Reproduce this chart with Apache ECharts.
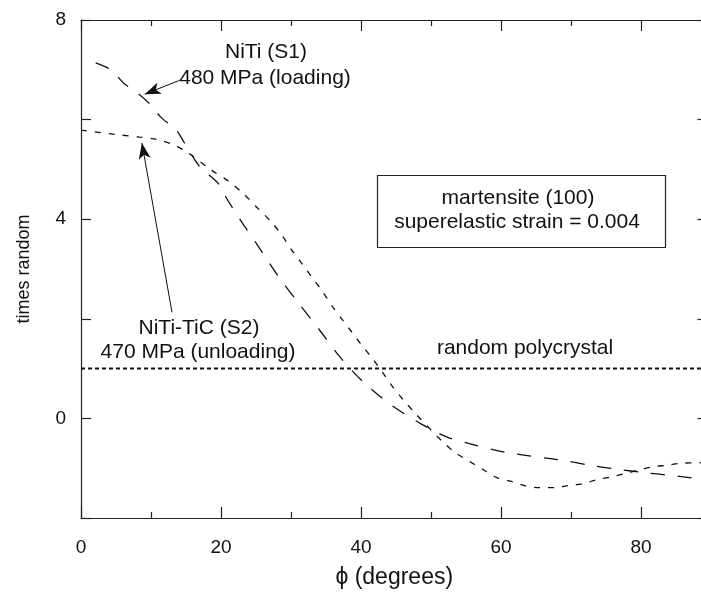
<!DOCTYPE html>
<html>
<head>
<meta charset="utf-8">
<script src="https://cdn.jsdelivr.net/npm/echarts@6/dist/echarts.min.js"></script>
<style>
  html, body { margin: 0; padding: 0; background: #fff; overflow: hidden; }
  #chart { width: 712px; height: 597px; }
</style>
</head>
<body>
<div id="chart"></div>
<script>
// Pole-figure intensity (times random) vs tilt angle phi
var phiS1 = [2.1, 4.3, 6.1, 8.1, 10, 11.4, 13.6, 14.7, 17, 19.6, 20.7, 22.6, 25.4, 28.1, 31, 34, 36.9, 40.4, 44.4, 48.7, 52.4, 56.4, 60.6, 64.4, 68.7, 72.7, 76.6, 80.6, 84.6, 88.6];
var valS1 = [7.14, 7.0, 6.73, 6.53, 6.29, 6.05, 5.79, 5.55, 5.05, 4.72, 4.44, 4.02, 3.44, 2.87, 2.33, 1.79, 1.25, 0.72, 0.26, -0.12, -0.38, -0.54, -0.68, -0.76, -0.84, -0.94, -1.02, -1.09, -1.15, -1.22];

var phiS2 = [0, 5.7, 8.3, 10.9, 13.3, 15.1, 18.7, 21.1, 23.3, 25.1, 27.1, 28.7, 30, 31.4, 33, 34.4, 35.9, 37.3, 38.6, 40, 41.7, 43.1, 44.6, 46, 47.9, 51.6, 53.4, 55.7, 57.7, 59.4, 61.6, 63.6, 65.6, 67.7, 69.6, 71.7, 73.7, 75.9, 77.7, 79.9, 81.7, 83.7, 85.7, 88.6];
var valS2 = [5.79, 5.69, 5.65, 5.6, 5.49, 5.35, 4.98, 4.76, 4.5, 4.24, 3.96, 3.68, 3.4, 3.14, 2.83, 2.57, 2.25, 1.99, 1.75, 1.49, 1.19, 0.92, 0.62, 0.38, 0.08, -0.46, -0.68, -0.88, -1.05, -1.19, -1.27, -1.36, -1.39, -1.39, -1.35, -1.31, -1.23, -1.17, -1.11, -1.03, -0.97, -0.94, -0.90, -0.89];

var phiRandom = [0, 89.5];
var valRandom = [1, 1];

// arrow tail and head, in data coordinates
var arrowS1 = [[14.1, 6.79], [9.1, 6.51]];
var arrowS2 = [[13.0, 2.13], [8.7, 5.53]];

var xTickLabels = [0, 20, 40, 60, 80];
var yTickLabels = [0, 4, 8];

function zip(xs, ys) { return xs.map(function (x, i) { return [x, ys[i]]; }); }

var FONT = 'Liberation Sans';
var INK = '#111';
var FRAME = '#222';

var chart = echarts.init(document.getElementById('chart'), null, { renderer: 'canvas' });

var axisLine = { show: true, onZero: false, lineStyle: { color: FRAME, width: 1.2 } };
var xTick = { inside: true, length: 11, lineStyle: { color: FRAME, width: 1.2 } };
var xMinor = { show: true, splitNumber: 2, length: 6, lineStyle: { color: FRAME, width: 1.2 } };
var yTick = { inside: true, length: 10, lineStyle: { color: FRAME, width: 1.2 } };

chart.setOption({
  animation: false,
  backgroundColor: '#fff',
  grid: { left: 81, top: 20, width: 626.5, height: 498, containLabel: false },
  xAxis: [{
    type: 'value', min: 0, max: 89.5, interval: 20, position: 'bottom',
    name: 'ϕ (degrees)', nameLocation: 'middle', nameGap: 48,
    nameTextStyle: { fontFamily: FONT, fontSize: 23, color: INK },
    axisLine: axisLine, axisTick: xTick, minorTick: xMinor,
    splitLine: { show: false }, minorSplitLine: { show: false },
    axisLabel: {
      margin: 20, fontFamily: FONT, fontSize: 19, color: INK,
      formatter: function (v) { return xTickLabels.indexOf(v) >= 0 ? String(v) : ''; }
    }
  }, {
    type: 'value', min: 0, max: 89.5, interval: 20, position: 'top',
    axisLine: axisLine, axisTick: xTick, minorTick: xMinor,
    splitLine: { show: false }, minorSplitLine: { show: false }, axisLabel: { show: false }
  }],
  yAxis: [{
    type: 'value', min: -2, max: 8, interval: 2, position: 'left',
    name: 'times random', nameLocation: 'middle', nameGap: 48, nameRotate: 90,
    nameTextStyle: { fontFamily: FONT, fontSize: 18, color: INK },
    axisLine: axisLine, axisTick: yTick,
    splitLine: { show: false },
    axisLabel: {
      margin: 15, fontFamily: FONT, fontSize: 19, color: INK,
      formatter: function (v) { return yTickLabels.indexOf(v) >= 0 ? String(v) : ''; }
    }
  }, {
    type: 'value', min: -2, max: 8, interval: 2, position: 'right',
    axisLine: axisLine, axisTick: yTick,
    splitLine: { show: false }, axisLabel: { show: false }
  }],
  series: [{
    name: 'NiTi (S1)', type: 'line', data: zip(phiS1, valS1),
    showSymbol: false, smooth: 0.3, silent: true,
    lineStyle: { color: INK, width: 1.3, type: [14, 13] },
    markLine: {
      silent: true, symbol: ['none', 'arrow'], symbolSize: [9, 16],
      label: { show: false },
      lineStyle: { type: 'solid', color: INK, width: 1 },
      data: [[{ coord: arrowS1[0] }, { coord: arrowS1[1] }]]
    }
  }, {
    name: 'NiTi-TiC (S2)', type: 'line', data: zip(phiS2, valS2),
    showSymbol: false, smooth: 0.3, silent: true,
    lineStyle: { color: INK, width: 1.3, type: [6, 8] },
    markLine: {
      silent: true, symbol: ['none', 'arrow'], symbolSize: [9, 16],
      label: { show: false },
      lineStyle: { type: 'solid', color: INK, width: 1 },
      data: [[{ coord: arrowS2[0] }, { coord: arrowS2[1] }]]
    }
  }, {
    name: 'random polycrystal', type: 'line', data: zip(phiRandom, valRandom),
    showSymbol: false, silent: true,
    lineStyle: { color: INK, width: 2, type: [4, 3] }
  }],
  graphic: [
    { type: 'text', style: { x: 266, y: 52, text: 'NiTi (S1)', fill: INK, font: '21px "Liberation Sans"', textAlign: 'center', textVerticalAlign: 'middle' } },
    { type: 'text', style: { x: 265, y: 78, text: '480 MPa (loading)', fill: INK, font: '21px "Liberation Sans"', textAlign: 'center', textVerticalAlign: 'middle' } },
    { type: 'text', style: { x: 199, y: 328, text: 'NiTi-TiC (S2)', fill: INK, font: '21px "Liberation Sans"', textAlign: 'center', textVerticalAlign: 'middle' } },
    { type: 'text', style: { x: 198, y: 352, text: '470 MPa (unloading)', fill: INK, font: '21px "Liberation Sans"', textAlign: 'center', textVerticalAlign: 'middle' } },
    { type: 'text', style: { x: 525, y: 348, text: 'random polycrystal', fill: INK, font: '21px "Liberation Sans"', textAlign: 'center', textVerticalAlign: 'middle' } },
    { type: 'rect', shape: { x: 377.5, y: 175.5, width: 288, height: 72 }, style: { fill: '#fff', stroke: FRAME, lineWidth: 1.2 } },
    { type: 'text', style: { x: 518, y: 198, text: 'martensite (100)', fill: INK, font: '21px "Liberation Sans"', textAlign: 'center', textVerticalAlign: 'middle' } },
    { type: 'text', style: { x: 517, y: 222, text: 'superelastic strain = 0.004', fill: INK, font: '21px "Liberation Sans"', textAlign: 'center', textVerticalAlign: 'middle' } }
  ]
});
</script>
</body>
</html>
